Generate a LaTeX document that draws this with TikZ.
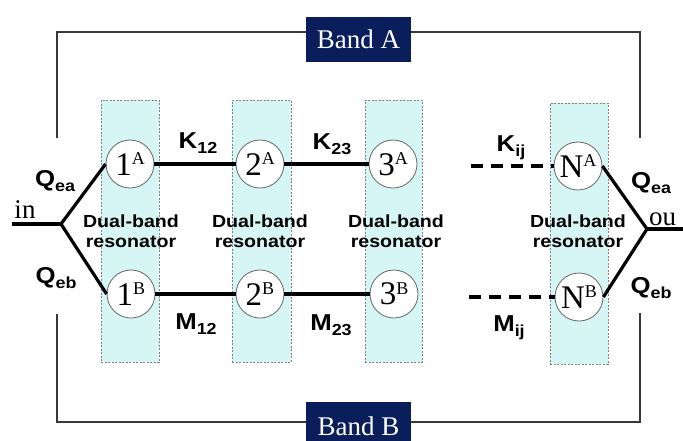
\documentclass[tikz,border=0pt]{standalone}
\usepackage{fontspec}
\setmainfont{Liberation Serif}
\setsansfont{Liberation Sans}[FakeStretch=1.12]
\definecolor{navy}{RGB}{10,30,92}
\definecolor{cyanbg}{RGB}{214,245,245}
\definecolor{framegray}{RGB}{55,55,55}
\newcommand{\cirlab}[2]{{\fontsize{33}{33}\selectfont #1}\raisebox{10.5pt}{\fontsize{18}{18}\selectfont #2}}
\newcommand{\cpllab}[2]{{\fontsize{23}{23}\selectfont\sffamily\bfseries #1}\raisebox{-5pt}{\fontsize{16}{16}\selectfont\sffamily\bfseries #2}}
\tikzset{
  res/.style={circle, draw=gray!80!black, fill=white, line width=0.8pt, minimum size=48pt, inner sep=0pt},
  resbox/.style={draw=gray, dash pattern=on 2pt off 1.5pt, line width=0.7pt, fill=cyanbg, minimum width=58pt, minimum height=262pt, inner sep=0pt},
  restext/.style={align=center, inner sep=0pt, font=\fontsize{17.5}{20}\selectfont\sffamily\bfseries},
  cpl/.style={line width=3.2pt},
  dcpl/.style={line width=3.2pt, dash pattern=on 12pt off 8pt},
  framel/.style={line width=2pt, draw=framegray},
  band/.style={fill=navy, text=white, minimum width=105pt, minimum height=45pt, inner sep=0pt, font=\fontsize{27}{27}\selectfont},
  lab/.style={inner sep=0pt},
  port/.style={inner sep=0pt, font=\fontsize{27}{27}\selectfont}
}
\begin{document}
\begin{tikzpicture}[x=1pt,y=-1pt]
\useasboundingbox (0,0) rectangle (683,440);
% resonator boxes
\node[resbox] (r1) at (130,231) {};
\node[resbox, minimum width=59pt] (r2) at (261.5,231) {};
\node[resbox, minimum width=57pt] (r3) at (393.5,231) {};
\node[resbox, minimum height=261pt] (r4) at (579,233.5) {};
\node[restext] (t1) at (131,231) {Dual-band\\resonator};
\node[restext] (t2) at (260,231) {Dual-band\\resonator};
\node[restext] (t3) at (396,231) {Dual-band\\resonator};
\node[restext] (t4) at (578,231) {Dual-band\\resonator};
% frame
\coordinate (tl) at (57,32);
\coordinate (tlb) at (57,138);
\coordinate (tr) at (640,32);
\coordinate (trb) at (640,138);
\coordinate (bl) at (57,422);
\coordinate (blt) at (57,314);
\coordinate (br) at (640,422);
\coordinate (brt) at (640,313);
\node[band] (bA) at (358.5,39.5) {Band A};
\node[band, minimum height=48pt] (bB) at (358.5,426) {Band B};
\draw[framel] (tlb) -- (tl) -- (tl -| bA.west);
\draw[framel] (tr -| bA.east) -- (tr) -- (trb);
\draw[framel] (blt) -- (bl) -- (bl -| bB.west);
\draw[framel] (br -| bB.east) -- (br) -- (brt);
% resonators
\node[res] (1A) at (130,164) {\cirlab{1}{A}};
\node[res] (2A) at (260,164) {\cirlab{2}{A}};
\node[res] (3A) at (393,164) {\cirlab{3}{A}};
\node[res] (NA) at (578,166) {\cirlab{N}{A}};
\node[res] (1B) at (131,294) {\cirlab{1}{B}};
\node[res] (2B) at (260,294) {\cirlab{2}{B}};
\node[res] (3B) at (394,294) {\cirlab{3}{B}};
\node[res] (NB) at (579,297) {\cirlab{N}{B}};
% couplings
\draw[cpl] (1A) -- (2A);
\draw[cpl] (2A) -- (3A);
\draw[cpl] (1B) -- (2B);
\draw[cpl] (2B) -- (3B);
\coordinate (kd) at (471,166);
\coordinate (md) at (469,297);
\draw[dcpl] (kd) -- (NA.west);
\draw[dcpl] (md) -- (NB.west);
% ports
\coordinate (inend) at (12,224);
\coordinate (inb) at (61,224);
\coordinate (outb) at (647,229);
\coordinate (outend) at (683,229);
\draw[cpl] (inend) -- (inb);
\draw[cpl] (inb) -- (1A.west);
\draw[cpl] (inb) -- (1B.west);
\draw[cpl] (outend) -- (outb);
\draw[cpl] (outb) -- (NA.east);
\draw[cpl] (outb) -- (NB.east);
\node[port, anchor=base] (tin) at (25,218) {in};
\node[port, anchor=base west] (tout) at (649,225) {ou};
% labels
\node[lab] (k12) at (198,143) {\cpllab{K}{12}};
\node[lab] (k23) at (332,144) {\cpllab{K}{23}};
\node[lab] (kij) at (511,148) {\cpllab{K}{ij}};
\node[lab] (m12) at (196,324) {\cpllab{M}{12}};
\node[lab] (m23) at (331,325) {\cpllab{M}{23}};
\node[lab] (mij) at (509,328) {\cpllab{M}{ij}};
\node[lab] (qea1) at (55,181) {\cpllab{Q}{ea}};
\node[lab] (qeb1) at (56,278) {\cpllab{Q}{eb}};
\node[lab] (qea2) at (651,183) {\cpllab{Q}{ea}};
\node[lab] (qeb2) at (651,288) {\cpllab{Q}{eb}};
\end{tikzpicture}
\end{document}
